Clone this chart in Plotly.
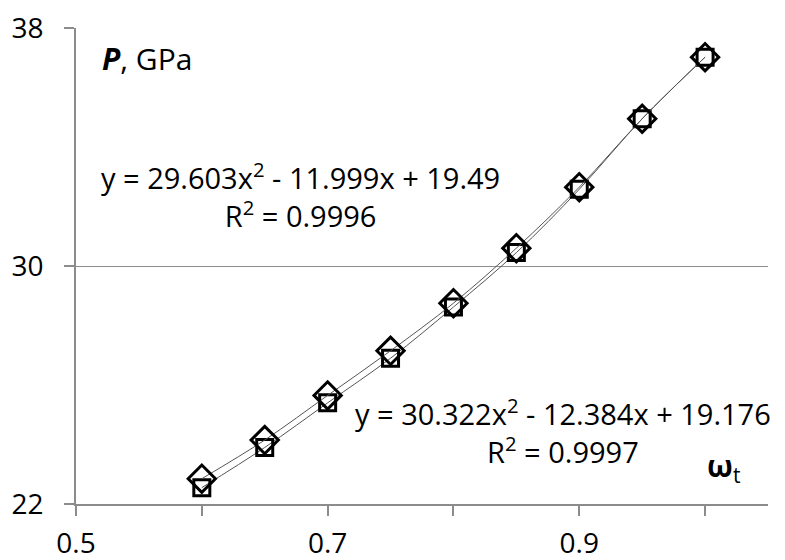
import plotly.graph_objects as go

omega = [0.6, 0.65, 0.7, 0.75, 0.8, 0.85, 0.9, 0.95, 1.0]
p_diamond = [22.85, 24.15, 25.65, 27.15, 28.75, 30.6, 32.65, 34.95, 37.02]
p_square = [22.55, 23.9, 25.4, 26.9, 28.62, 30.45, 32.58, 34.95, 37.02]

x_ticks = [0.5, 0.6, 0.7, 0.8, 0.9, 1.0]
x_tick_text = ["0.5", "", "0.7", "", "0.9", ""]
y_ticks = [22, 30, 38]

FONT = "Open Sans"

fig = go.Figure()
fig.add_trace(go.Scatter(
    x=omega, y=p_square, mode="lines+markers", line=dict(color="#555555", width=1, shape="spline"),
    marker=dict(symbol="square-open", size=16, color="black", line=dict(width=3, color="black")),
    showlegend=False))
fig.add_trace(go.Scatter(
    x=omega, y=p_diamond, mode="lines+markers", line=dict(color="#555555", width=1, shape="spline"),
    marker=dict(symbol="diamond-open", size=21, color="black", line=dict(width=3, color="black")),
    showlegend=False))

fig.update_layout(
    width=785, height=560,
    margin=dict(l=76, r=17, t=28, b=56),
    plot_bgcolor="white", paper_bgcolor="white",
    font=dict(family=FONT, size=24, color="black"),
    xaxis=dict(range=[0.5, 1.05], tickvals=x_ticks, ticktext=x_tick_text,
               showgrid=False, showline=True, linecolor="#8c8c8c", linewidth=1.5,
               ticks="outside", ticklen=10, tickcolor="#8c8c8c", tickwidth=1.5,
               tickfont=dict(size=28), zeroline=False, automargin=False, ticklabelstandoff=4),
    yaxis=dict(range=[22, 38], tickvals=y_ticks, showgrid=True, gridcolor="#8c8c8c", gridwidth=1.2,
               showline=True, linecolor="#8c8c8c", linewidth=1.5,
               ticks="outside", ticklen=10, tickcolor="#8c8c8c", tickwidth=1.5,
               tickfont=dict(size=28), zeroline=False, automargin=False, ticklabelstandoff=15),
    annotations=[
        dict(xref="paper", yref="paper", x=0.035, y=0.935, xanchor="left", yanchor="middle",
             text="<b><i>P</i></b>, GPa", showarrow=False, font=dict(size=30)),
        dict(xref="paper", yref="paper", x=0.324, y=0.649, xanchor="center", yanchor="middle",
             text="y = 29.603x<sup>2</sup> - 11.999x + 19.49<br>R<sup>2</sup> = 0.9996",
             showarrow=False, align="center", font=dict(size=29)),
        dict(xref="paper", yref="paper", x=0.704, y=0.153, xanchor="center", yanchor="middle",
             text="y = 30.322x<sup>2</sup> - 12.384x + 19.176<br>R<sup>2</sup> = 0.9997",
             showarrow=False, align="center", font=dict(size=29)),
        dict(xref="paper", yref="paper", x=0.936, y=0.078, xanchor="center", yanchor="middle",
             text="<b>ω</b><sub>t</sub>", showarrow=False, font=dict(size=30)),
    ],
)

fig.write_html("out.html")
